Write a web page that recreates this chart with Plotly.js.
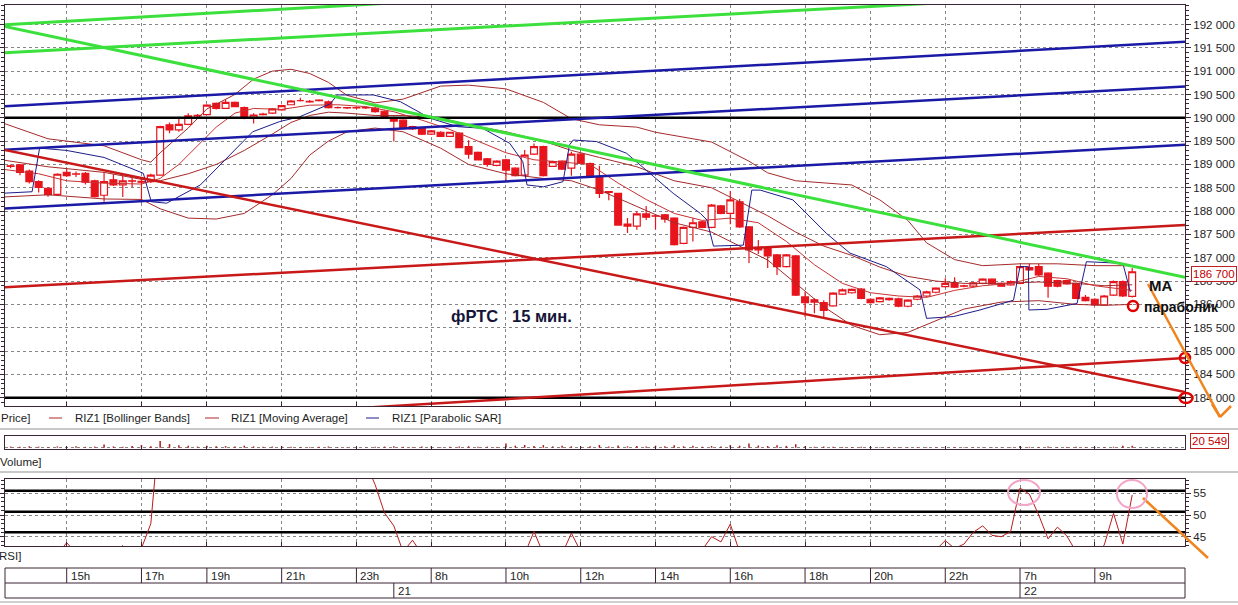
<!DOCTYPE html>
<html><head><meta charset="utf-8">
<script src="https://cdn.plot.ly/plotly-3.0.1.min.js"></script>
<style>body{margin:0;background:#fff}#chart{width:1238px;height:605px}</style>
</head><body><div id="chart"></div>
<script>
// ---------- DATA (15-minute candles, RIZ1) ----------
const openP = [188970,188990,188860,188630,188490,188360,
188830,188790,188810,188650,188340,188670,188560,188650,188640,188630,
188770,189850,189740,189860,190040,190070,190310,190200,190330,190220,
190000,190070,190100,190170,190280,190370,190350,190370,190340,190220,
190220,190210,190220,190210,190140,190000,189950,189810,189770,189650,
189690,189600,189670,189380,189260,189120,188980,189100,188920,188770,
189220,189380,188960,189070,188920,189220,189020,188730,188420,188380,
187720,187680,187940,187900,187920,187850,187310,187650,187770,187650,
188110,187950,188200,187660,187220,187200,187060,186810,187040,186160,
186100,186040,185970,186220,186250,186330,186110,186060,186100,186120,
185960,186110,186180,186260,186380,186460,186400,186390,186450,186540,
186450,186420,186450,186740,186810,186670,186510,186510,186450,186150,
186110,185990,186200,186490,186170];
const highP = [189000,189010,188890,188660,188510,188810,
188900,188850,188840,188670,188830,188790,188790,188720,188720,188800,
189830,189900,190020,190100,190080,190290,190330,190400,190350,190240,
190100,190110,190210,190280,190380,190430,190380,190400,190370,190240,
190230,190240,190240,190240,190160,190020,189970,189830,189790,189740,
189710,189700,189690,189520,189280,189140,189090,189120,188940,189310,
189450,189400,189080,189090,189270,189250,189040,188970,188430,188390,
187850,187990,188110,187920,187940,187870,187670,187850,187790,188150,
188130,188430,188260,187680,187380,187220,187080,187080,187060,186270,
186130,186090,186260,186340,186340,186350,186130,186160,186150,186140,
186110,186200,186290,186370,186560,186580,186420,186480,186560,186560,
186470,186510,186830,186870,186870,186690,186530,186530,186470,186200,
186130,186200,186510,186510,186780];
const lowP = [188920,188770,188590,188400,188310,188340,
188730,188730,188570,188290,188200,188540,188300,188510,188180,188600,
188760,189670,189700,189840,190000,190060,190180,190190,190230,189970,
189880,190050,190080,190150,190270,190350,190320,190350,190200,190200,
190190,190190,190190,190110,189990,189490,189750,189740,189630,189630,
189590,189590,189350,189120,189090,188950,188960,188630,188740,188750,
189200,188740,188950,188880,188760,189000,188730,188280,188230,187690,
187530,187600,187810,187610,187750,187260,187290,187350,187630,187630,
187930,187720,187640,186890,187080,186780,186630,186790,186180,185730,
185810,185730,185950,186200,186230,186110,186020,186040,186080,185940,
185940,186090,186160,186240,186360,186350,186370,186370,186430,186420,
186380,186400,186430,186720,186610,186140,186370,186420,186110,186060,
185970,185970,186180,186160,186150];
const closeP = [188960,188830,188630,188510,188350,188790,
188760,188800,188620,188310,188630,188560,188650,188640,188620,188770,
189810,189740,189860,190040,190050,190270,190200,190330,190240,189990,
190060,190080,190190,190260,190360,190370,190340,190380,190220,190220,
190210,190220,190210,190130,190010,189930,189770,189760,189650,189720,
189600,189690,189360,189220,189100,189000,189070,188880,188760,189200,
189380,188760,189060,188900,189220,189020,188750,188380,188400,187700,
187680,187940,187870,187890,187830,187280,187650,187750,187650,188130,
187950,188240,187660,187170,187170,187040,186810,187060,186200,186040,
186050,185870,186240,186310,186320,186130,186040,186140,186130,185960,
186090,186180,186270,186350,186450,186370,186390,186460,186540,186440,
186390,186490,186810,186790,186630,186390,186390,186440,186130,186080,
185990,186180,186490,186180,186700];
const volume = [12000,9000,15000,11000,8000,14000,
10000,16000,9000,12000,35000,14000,11000,18000,30000,15000,
75000,40000,28000,22000,12000,20000,15000,18000,12000,22000,
14000,9000,12000,15000,10000,8000,7000,9000,13000,6000,
5000,6000,4000,9000,12000,15000,10000,8000,12000,9000,
7000,9000,14000,16000,10000,11000,8000,45000,22000,30000,
18000,28000,14000,20000,15000,12000,16000,30000,12000,25000,
14000,18000,12000,22000,15000,28000,16000,20000,10000,18000,
14000,30000,22000,45000,24000,18000,26000,20000,38000,15000,
10000,12000,9000,8000,7000,10000,6000,5000,6000,7000,
5000,4000,6000,5000,8000,7000,5000,6000,5000,4000,
5000,6000,18000,9000,8000,12000,7000,6000,9000,7000,
6000,8000,10000,22000,20549];
const rsi = [38,37,36,36,38,41,
43.6,41,39,38,40,41,42.95,40,42.3,48,
72,70,71,73,75,76,74,73,70,71,
72,73,74,75,76,75,72,73,70,68,
67,65,62,57,50.5,47.5,41.5,44.2,41,40,
38,36,34,33,35,32,34,31,35,41,
46.2,41,39,41,45.8,41,37,33,34,28,
27,30,33,32,30,25,28,36,42,45,
43.8,47.9,41,35,33,31,34,32,26,25,
28,27,31,35,36,38,34,33,35,37,
39,40,41,42,44.1,42.3,43.3,46,47.5,45.3,
45,46.2,56.2,54.8,50,44.5,47.2,45.2,41.5,41,
41.5,43,50.4,43.3,54.6];

// indicator lines (x = candle number, 0 = 20th 13:30)
const bbUpperX = [-1,4,10,14,15,16,19,21,24,26,28,30,32,34,36,39,42,46,49,53,57,60,63,67,69,72,75,79,81,84,87,90,93,96,98,101,104,108,112,116,120];
const bbUpperY = [189900,189550,189400,189100,189050,189250,189780,190190,190500,190830,191000,191040,190950,190760,190480,190320,190400,190680,190700,190620,190330,189980,189850,189800,189690,189580,189480,189070,188820,188650,188600,188560,188240,187800,187320,186960,186830,186870,186870,186830,186830];
const bbLowerX = [-1,4,10,14,16,19,22,25,28,30,32,34,36,39,42,46,49,53,57,60,63,67,71,75,78,81,84,87,90,93,96,99,102,106,110,114,117,120];
const bbLowerY = [188300,188350,188260,188250,188050,187850,187830,187950,188350,188700,189200,189500,189700,189780,189700,189350,189000,188800,188700,188650,188450,188100,187750,187550,187250,186950,186450,185950,185550,185350,185400,185650,185900,186050,186080,186000,185980,186000];
const bbMidX = [-1,4,10,14,16,19,22,25,28,30,32,34,36,39,42,46,49,53,57,60,63,67,71,75,78,81,84,87,90,93,96,99,102,106,110,114,117,120];
const bbMidY = [189100,188950,188830,188680,188650,188800,189000,189300,189650,189900,190050,190120,190100,190050,190050,190000,189850,189700,189500,189300,189150,188950,188650,188500,188200,187900,187550,187250,187050,186800,186600,186500,186450,186450,186480,186450,186400,186420];
const maX = [-1,3,6,10,14,16,18,20,22,24,26,29,32,35,38,41,44,47,50,53,56,59,62,65,68,71,74,77,80,83,86,89,92,95,98,101,104,107,110,113,116,120];
const maY = [188900,188800,188650,188600,188580,188700,189000,189400,189800,190100,190200,190180,190270,190280,190240,190130,189950,189750,189500,189250,189100,189050,189000,188600,188250,187950,187800,187850,187750,187350,186850,186450,186250,186180,186150,186300,186400,186450,186600,186550,186400,186300];
const sarX = [-1.1,2.3,3.1,6,10,14.2,15.05,16.7,20.3,23.8,25.9,28.8,30.9,34.2,34.95,38.8,41.7,44.9,47.8,50.5,53.4,54.8,55.25,57,59.1,59.8,60.2,62.7,65.9,68.8,70.9,73.8,74.5,75.2,78.4,79.3,80.2,83.7,85.5,87.3,89.8,93.7,97.3,98,100.9,103.7,107.3,108,108.9,108.95,110.9,114.1,115.1,119,119.8];
const sarY = [188380,188415,189350,189300,189150,188810,188200,188170,188560,189270,189700,189920,190020,190300,190490,190490,190345,189990,189810,189775,189453,189060,188560,188520,188630,189420,189524,189490,189240,188740,188380,187950,187810,187250,187270,188450,188450,188240,187880,187520,187100,186810,186310,185700,185740,185880,186090,186810,186810,185880,185895,186020,186915,186880,186270];

// drawn trend lines (end points: candle number, price)
const greenUp1X = [-1.14,46], greenUp1Y = [191990,192520];
const greenUp2X = [-1.14,100], greenUp2Y = [191390,192470];
const greenDownX = [-1.14,125.65], greenDownY = [191980,186580];
const blue1X = [-1.14,125.65], blue1Y = [190240,191630];
const blue2X = [-1.14,125.65], blue2Y = [189310,190670];
const blue3X = [-1.14,125.65], blue3Y = [188050,189420];
const redDownX = [-1.14,125.65], redDownY = [189330,184120];
const redUp1X = [-1.14,125.65], redUp1Y = [186360,187700];
const redUp2X = [30,125.65], redUp2Y = [183690,184850];
const blackLevels = [190000,184000];
const rsiLevels = [55.6,50.75,46.0];

const priceTicks = [184000,184500,185000,185500,186000,186500,187000,187500,188000,188500,189000,189500,190000,190500,191000,191500,192000];
const priceTickText = ['184 000','184 500','185 000','185 500','186 000','186 500','187 000','187 500','188 000','188 500','189 000','189 500','190 000','190 500','191 000','191 500','192 000'];
const rsiTicks = [45,50,55];
const hourTickPos = [6,14,21,29,37,45,53,61,69,77,85,92,100,108,116];
const hourTickText = ['15h','17h','19h','21h','23h','8h','10h','12h','14h','16h','18h','20h','22h','7h','9h'];
const dayPos = [41,108];
const dayText = ['21','22'];
const lastPriceText = '186 700';
const lastVolumeText = '20 549';

// ---------- DRAWING ----------
const PX = x => x / 1238, PY = y => 1 - y / 605;
const frame = '#3b2433';
const candleX = openP.map((_, k) => k);
const xr = [-0.6, 125.65];
const FONT = 'Liberation Sans, Arial, sans-serif';
const GRID = '#858585', GDASH = '3px,3px';

function line(x, y, color, width, xa, ya) {
  return {type:'scatter', mode:'lines', x:x, y:y, xaxis:xa||'x', yaxis:ya||'y',
    line:{color:color, width:width}, hoverinfo:'skip', showlegend:false};
}

const traces = [];
traces.push(line(bbUpperX, bbUpperY, '#a52a2a', 1));
traces.push(line(bbMidX, bbMidY, '#a52a2a', 1));
traces.push(line(bbLowerX, bbLowerY, '#a52a2a', 1));
traces.push(line(maX, maY, '#c83232', 1));
traces.push(line(sarX, sarY, '#1c1c8c', 1));
traces.push({type:'candlestick', x:candleX, open:openP, high:highP, low:lowP, close:closeP,
  xaxis:'x', yaxis:'y', whiskerwidth:0,
  increasing:{line:{color:'#e8141c', width:1.2}, fillcolor:'#ffffff'},
  decreasing:{line:{color:'#e8141c', width:1.2}, fillcolor:'#e8141c'},
  hoverinfo:'skip', showlegend:false});
// trend lines
blackLevels.forEach(v => traces.push(line(xr, [v, v], '#000000', 2.5)));
traces.push(line(blue1X, blue1Y, '#1a1aa6', 2.5));
traces.push(line(blue2X, blue2Y, '#1a1aa6', 2.5));
traces.push(line(blue3X, blue3Y, '#1a1aa6', 2.5));
traces.push(line(redDownX, redDownY, '#c81818', 2.5));
traces.push(line(redUp1X, redUp1Y, '#c81818', 2.5));
traces.push(line(redUp2X, redUp2Y, '#c81818', 2.5));
traces.push(line(greenUp1X, greenUp1Y, '#3ce03c', 3));
traces.push(line(greenUp2X, greenUp2Y, '#3ce03c', 3));
traces.push(line(greenDownX, greenDownY, '#3ce03c', 3));
// volume
traces.push({type:'bar', x:candleX, y:volume, xaxis:'x2', yaxis:'y2', width:0.16,
  marker:{color:'#b01818', line:{width:0}}, hoverinfo:'skip', showlegend:false});
// RSI
rsiLevels.forEach(v => traces.push(line(xr, [v, v], '#000000', 2.5, 'x3', 'y3')));
traces.push(line(candleX, rsi, '#b81c1c', 1, 'x3', 'y3'));

const baseX = {domain:[PX(5), PX(1185)], range:xr, tickmode:'array', tickvals:hourTickPos,
  showticklabels:false, showgrid:true, gridcolor:GRID, griddash:GDASH, gridwidth:1,
  showline:true, linecolor:frame, linewidth:1, mirror:true, zeroline:false,
  ticks:'inside', ticklen:4, tickcolor:frame, fixedrange:true};

const shapes = [];
const annotations = [];
function pline(x0, y0, x1, y1, color, width) {
  shapes.push({type:'line', xref:'paper', yref:'paper', x0:PX(x0), y0:PY(y0), x1:PX(x1), y1:PY(y1),
    line:{color:color, width:width}});
}
function pellipse(cx, cy, rx, ry, color, width) {
  shapes.push({type:'circle', xref:'paper', yref:'paper', x0:PX(cx-rx), x1:PX(cx+rx), y0:PY(cy+ry), y1:PY(cy-ry),
    line:{color:color, width:width}, fillcolor:'rgba(0,0,0,0)'});
}
function ptext(text, x, y, opts) {
  annotations.push(Object.assign({text:text, xref:'paper', yref:'paper', x:PX(x), y:PY(y),
    xanchor:'left', yanchor:'middle', showarrow:false,
    font:{family:FONT, size:11.5, color:'#1e1e1e'}}, opts||{}));
}

// separators
pline(0, 429, 1238, 429, '#c8c8c8', 2);
pline(0, 472, 1238, 472, '#c8c8c8', 2);
pline(0, 602, 1238, 602, '#d0d0d0', 2);
// time table
shapes.push({type:'rect', xref:'paper', yref:'paper', x0:PX(5), x1:PX(1185), y0:PY(598), y1:PY(568),
  line:{color:frame, width:1}, fillcolor:'rgba(0,0,0,0)'});
pline(5, 583, 1185, 583, frame, 1);
hourTickPos.forEach((p, j) => {
  shapes.push({type:'line', xref:'x', yref:'paper', x0:p, x1:p, y0:PY(583), y1:PY(568), line:{color:frame, width:1}});
  annotations.push({text:hourTickText[j], xref:'x', yref:'paper', x:p, y:PY(575.5), xanchor:'left', yanchor:'middle',
    xshift:2, showarrow:false, font:{family:FONT, size:11.5, color:'#1e1e1e'}});
});
dayPos.forEach((p, j) => {
  shapes.push({type:'line', xref:'x', yref:'paper', x0:p, x1:p, y0:PY(598), y1:PY(583), line:{color:frame, width:1}});
  annotations.push({text:dayText[j], xref:'x', yref:'paper', x:p, y:PY(590.5), xanchor:'left', yanchor:'middle',
    xshift:2, showarrow:false, font:{family:FONT, size:11.5, color:'#1e1e1e'}});
});
// legend row
ptext('Price]', -1, 418);
pline(49, 418, 62, 418, '#b02828', 1);
ptext('RIZ1 [Bollinger Bands]', 73, 418);
pline(205, 418, 219, 418, '#b02828', 1);
ptext('RIZ1 [Moving Average]', 229, 418);
pline(366, 418, 379, 418, '#1c1c8c', 1);
ptext('RIZ1 [Parabolic SAR]', 390, 418);
ptext('Volume]', -2, 462);
ptext('RSI]', -3, 556);
// annotations on the chart
ptext('<b>фРТС&nbsp;&nbsp;&nbsp;15 мин.</b>', 449, 316, {font:{family:FONT, size:16.5, color:'#15153a'}});
ptext('<b>MA</b>', 1147, 286, {font:{family:FONT, size:15, color:'#111'}});
ptext('<b>параболик</b>', 1142, 307, {font:{family:FONT, size:14, color:'#111'}});
// value boxes
ptext(lastPriceText, 1191, 273.5, {font:{family:FONT, size:11.5, color:'#c00000'}, bordercolor:'#c02020', borderwidth:1, borderpad:1, bgcolor:'#ffffff'});
ptext(lastVolumeText, 1190, 441, {font:{family:FONT, size:11.5, color:'#c00000'}, bordercolor:'#c02020', borderwidth:1, borderpad:1, bgcolor:'#ffffff'});
// red circles
pellipse(1133, 306, 5, 5, '#e00000', 2.5);
pellipse(1185, 358, 5, 5, '#e00000', 2.5);
pellipse(1186, 398, 6.5, 5, '#e00000', 2.5);
// orange arrows
pline(1148, 284, 1220, 417, '#f0841e', 2.5);
pline(1220, 417, 1212, 404, '#f0841e', 2.5);
pline(1220, 417, 1231, 406, '#f0841e', 2.5);
pline(1143, 498, 1208, 558, '#f0841e', 2.5);
// pink circles on RSI
pellipse(1024, 492.5, 16, 12.5, '#f2a6c8', 2);
pellipse(1132, 494, 15, 14, '#f2a6c8', 2);

const layout = {
  width:1238, height:605, margin:{l:0, r:0, t:0, b:0, pad:0},
  paper_bgcolor:'#ffffff', plot_bgcolor:'#ffffff', showlegend:false, hovermode:false, dragmode:false,
  boxgap:0.27, boxgroupgap:0,
  font:{family:FONT, size:11.5, color:'#1e1e1e'},
  xaxis:Object.assign({}, baseX, {anchor:'y', rangeslider:{visible:false}}),
  xaxis2:Object.assign({}, baseX, {anchor:'y2', showgrid:false, ticklen:3}),
  xaxis3:Object.assign({}, baseX, {anchor:'y3'}),
  yaxis:{domain:[PY(406), PY(5)], range:[183822, 192418], side:'right', anchor:'x',
    tickmode:'array', tickvals:priceTicks, ticktext:priceTickText,
    ticks:'outside', ticklen:5, tickcolor:frame,
    minor:{tickmode:'linear', tick0:0, dtick:100, ticks:'outside', ticklen:3, tickcolor:frame, showgrid:false},
    showgrid:true, gridcolor:GRID, griddash:GDASH, showline:true, linecolor:frame, mirror:'allticks',
    zeroline:false, tickfont:{family:FONT, size:11.5, color:'#1e1e1e'}, fixedrange:true},
  yaxis2:{domain:[PY(449), PY(436)], range:[-15000, 130000], side:'right', anchor:'x2',
    tickmode:'array', tickvals:[0], showticklabels:false, ticks:'', showgrid:true, gridcolor:GRID, griddash:GDASH,
    showline:true, linecolor:frame, mirror:true, zeroline:false, fixedrange:true},
  yaxis3:{domain:[PY(546), PY(479)], range:[42.857, 58.295], side:'right', anchor:'x3',
    tickmode:'array', tickvals:rsiTicks, ticks:'outside', ticklen:5, tickcolor:frame,
    minor:{tickmode:'linear', tick0:0, dtick:1, ticks:'outside', ticklen:3, tickcolor:frame, showgrid:false},
    showgrid:true, gridcolor:GRID, griddash:GDASH, showline:true, linecolor:frame, mirror:'allticks',
    zeroline:false, tickfont:{family:FONT, size:11.5, color:'#1e1e1e'}, fixedrange:true},
  shapes:shapes, annotations:annotations
};

Plotly.newPlot('chart', traces, layout, {staticPlot:true, displayModeBar:false});
</script></body></html>
